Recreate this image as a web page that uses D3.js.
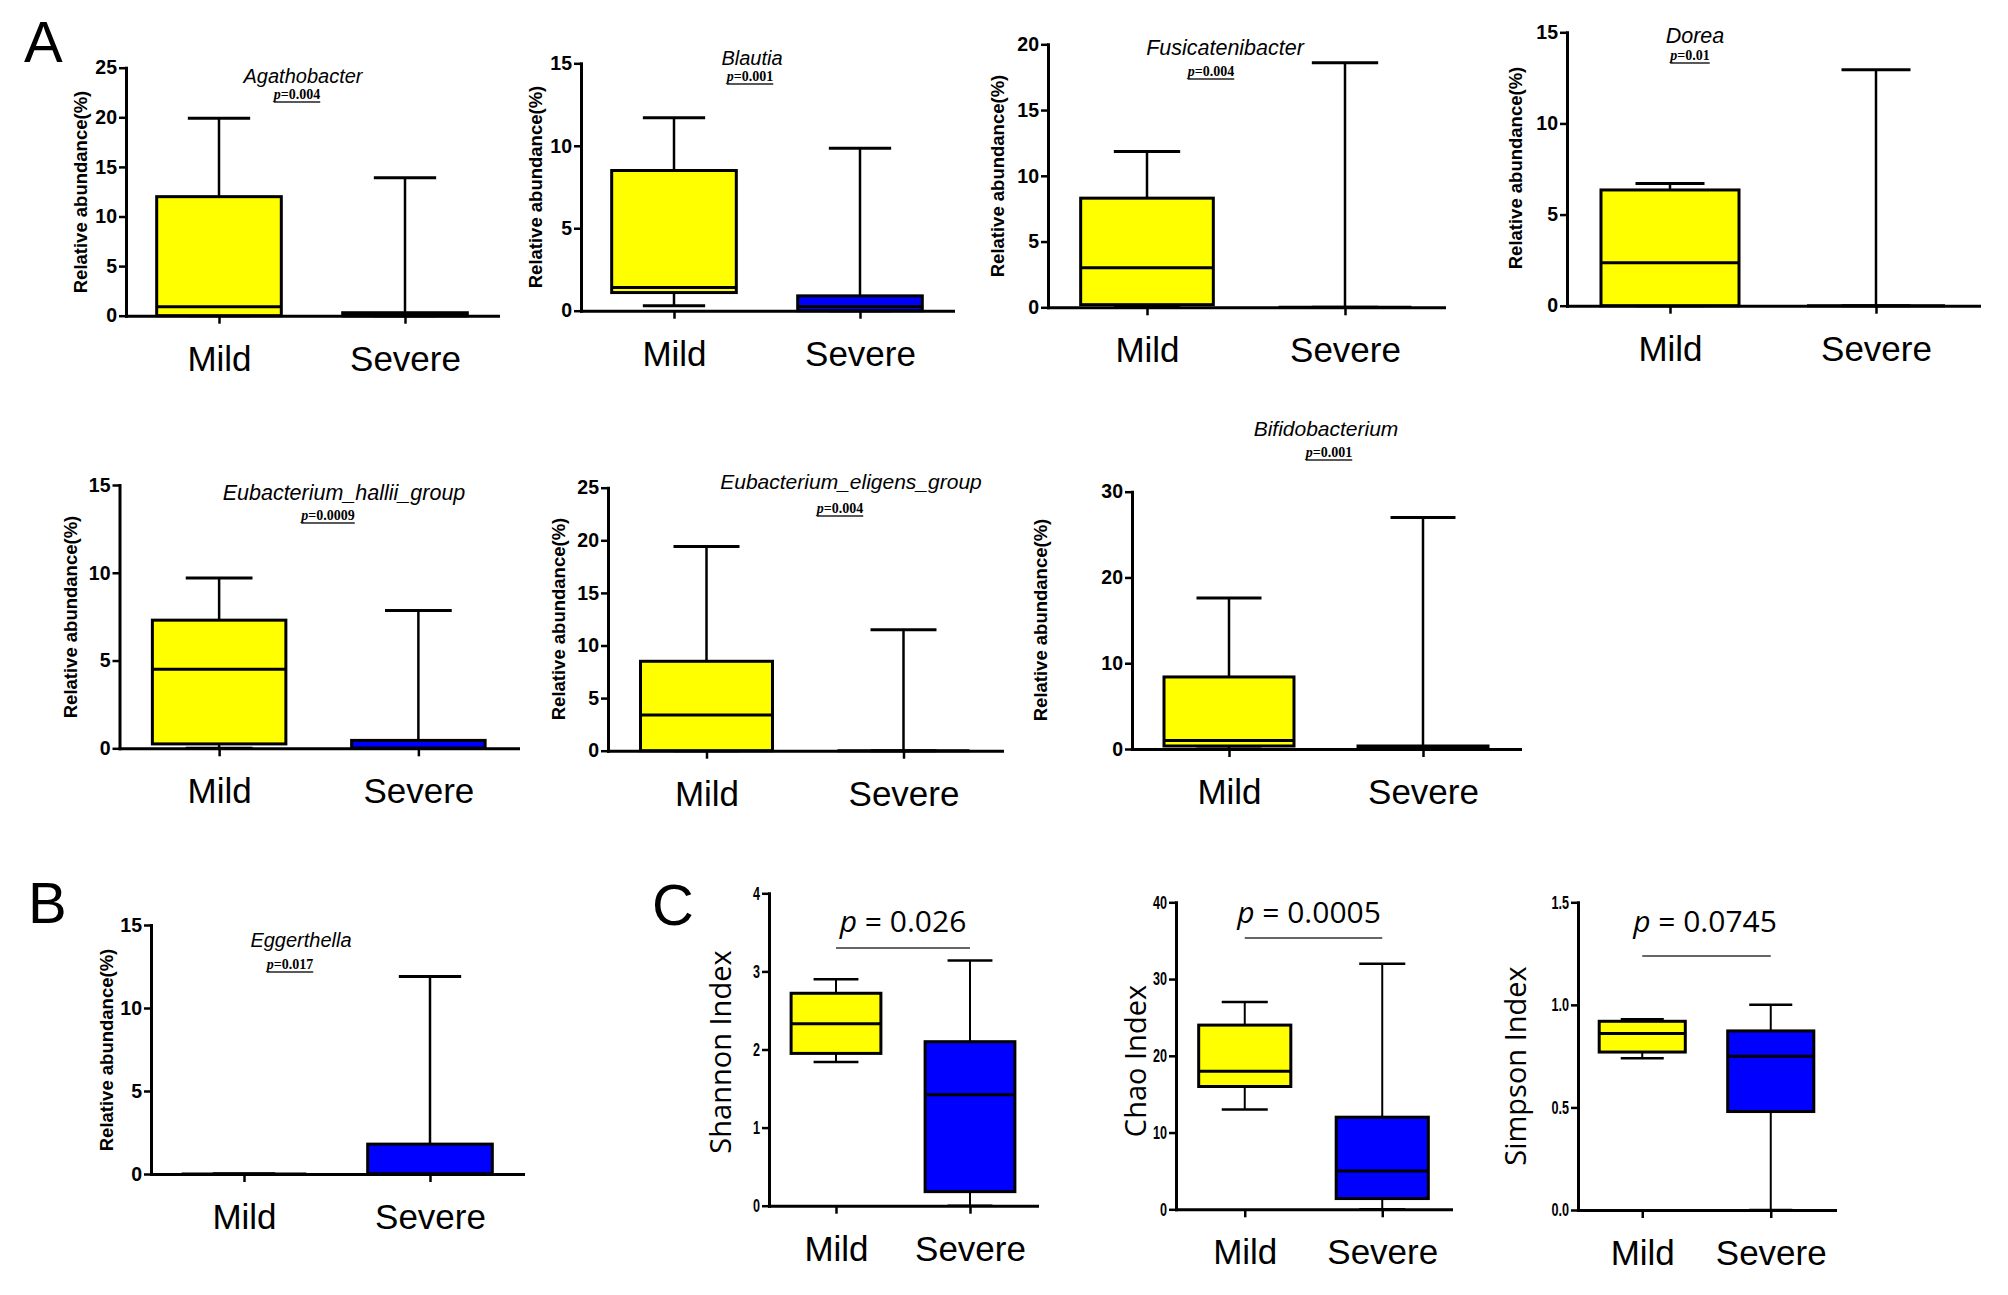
<!DOCTYPE html>
<html>
<head>
<meta charset="utf-8">
<script src="https://cdn.jsdelivr.net/npm/d3@7"></script>
<style>
  body { margin: 0; background: #fff; }
  svg { display: block; }
</style>
</head>
<body>
<svg id="fig" width="2008" height="1295"></svg>
<script>
// ---- data ----
var groups = ['Mild', 'Severe'];
var groupFill = ['#ffff00', '#0000ff'];

// panels A and B: relative abundance of genera
var genera = ['Agathobacter', 'Blautia', 'Fusicatenibacter', 'Dorea',
  'Eubacterium_hallii_group', 'Eubacterium_eligens_group', 'Bifidobacterium', 'Eggerthella'];
var generaP = ['0.004', '0.001', '0.004', '0.01', '0.0009', '0.004', '0.001', '0.017'];
var generaYMax = [25, 15, 20, 15, 15, 25, 30, 15];
var generaYStep = [5, 5, 5, 5, 5, 5, 10, 5];

// [min, q1, median, q3, max]
var mildAbundance = [
  [0, 0, 0.9, 12, 19.9],
  [0.3, 1.1, 1.4, 8.5, 11.7],
  [0, 0.2, 3.0, 8.3, 11.85],
  [0, 0, 2.35, 6.35, 6.7],
  [0, 0.25, 4.5, 7.3, 9.7],
  [0, 0, 3.4, 8.5, 19.4],
  [0, 0.35, 1.0, 8.4, 17.6],
  [0, 0, 0, 0, 0]
];
var severeAbundance = [
  [0, 0, 0, 0.3, 13.9],
  [0, 0, 0.25, 0.9, 9.85],
  [0, 0, 0, 0, 18.6],
  [0, 0, 0, 0, 12.95],
  [0, 0, 0, 0.45, 7.85],
  [0, 0, 0, 0, 11.5],
  [0, 0, 0, 0.35, 27],
  [0, 0, 0, 1.8, 11.9]
];

// panel C: alpha diversity
var indices = ['Shannon Index', 'Chao Index', 'Simpson Index'];
var indexP = ['0.026', '0.0005', '0.0745'];
var indexYMax = [4, 40, 1.5];
var indexYStep = [1, 10, 0.5];
var indexFormat = ['d', 'd', '.1f'];
var mildIndex = [
  [1.84, 1.95, 2.33, 2.72, 2.9],
  [13, 16, 18, 24, 27],
  [0.74, 0.77, 0.86, 0.92, 0.93]
];
var severeIndex = [
  [0, 0.18, 1.42, 2.1, 3.14],
  [0, 1.4, 5, 12, 32],
  [0, 0.48, 0.75, 0.873, 1.0]
];

// ---- layout (pixels) ----
// l/r: x extent, t: y of max tick, b: y of zero
// tx,ty,ts: title centre, baseline, size; px,py: p-value; lx,ly: y label centre
var genusLayout = [
  {l: 126, r: 498, t: 67.7, b: 315.7, tx: 303, ty: 83, ts: 20, px: 297, py: 99, lx: 80, ly: 192},
  {l: 581, r: 953, t: 63.3, b: 310.7, tx: 752, ty: 65, ts: 20, px: 750, py: 81, lx: 535, ly: 187},
  {l: 1048, r: 1444, t: 44.3, b: 307.3, tx: 1225, ty: 55, ts: 21.5, px: 1211, py: 76, lx: 997, ly: 176},
  {l: 1567, r: 1979, t: 32.3, b: 305.7, tx: 1695, ty: 43, ts: 21.5, px: 1690, py: 60, lx: 1515, ly: 168},
  {l: 119.5, r: 518, t: 485, b: 748.3, tx: 344, ty: 500, ts: 21.5, px: 328, py: 520, lx: 70, ly: 617},
  {l: 608, r: 1002, t: 487.7, b: 750.7, tx: 851, ty: 489, ts: 21, px: 840, py: 513, lx: 558, ly: 619},
  {l: 1132, r: 1520, t: 491.7, b: 749, tx: 1326, ty: 436, ts: 21, px: 1329, py: 457, lx: 1040, ly: 620},
  {l: 151, r: 523, t: 925, b: 1174, tx: 301, ty: 947, ts: 20, px: 290, py: 969, lx: 106, ly: 1050}
];
var indexLayout = [
  {l: 769, r: 1037, t: 893.3, b: 1205.7, px: 903, py: 932, by: 948, lx: 719, ly: 1052},
  {l: 1176, r: 1451, t: 902.3, b: 1209.3, px: 1309, py: 923, by: 938, lx: 1134, ly: 1061},
  {l: 1578, r: 1835, t: 902.3, b: 1210, px: 1705, py: 932, by: 956, lx: 1514, ly: 1066}
];

var SANS = "'Liberation Sans', Arial, sans-serif";
var OPEN = "'Open Sans', sans-serif";
var SERIF = "'Liberation Serif', 'Times New Roman', serif";

var svg = d3.select('#fig');

function drawBoxes(g, x, y, rows, whiskerW) {
  var bw = x.step() * 0.67;
  var data = groups.map(function (grp, i) {
    return {grp: grp, s: rows[i], fill: groupFill[i]};
  });
  var box = g.selectAll('g.box').data(data).join('g').attr('class', 'box');

  box.append('line')
    .attr('x1', function (d) { return x(d.grp); })
    .attr('x2', function (d) { return x(d.grp); })
    .attr('y1', function (d) { return y(d.s[0]); })
    .attr('y2', function (d) { return y(d.s[4]); })
    .attr('stroke', '#000').attr('stroke-width', whiskerW);

  [0, 4].forEach(function (k) {
    box.append('line')
      .attr('x1', function (d) { return x(d.grp) - bw / 4; })
      .attr('x2', function (d) { return x(d.grp) + bw / 4; })
      .attr('y1', function (d) { return y(d.s[k]); })
      .attr('y2', function (d) { return y(d.s[k]); })
      .attr('stroke', '#000').attr('stroke-width', whiskerW + 0.5);
  });

  box.append('rect')
    .attr('x', function (d) { return x(d.grp) - bw / 2; })
    .attr('width', bw)
    .attr('y', function (d) { return y(d.s[3]); })
    .attr('height', function (d) { return y(d.s[1]) - y(d.s[3]); })
    .attr('fill', function (d) { return d.fill; })
    .attr('stroke', '#000').attr('stroke-width', 3);

  box.append('line')
    .attr('x1', function (d) { return x(d.grp) - bw / 2; })
    .attr('x2', function (d) { return x(d.grp) + bw / 2; })
    .attr('y1', function (d) { return y(d.s[2]); })
    .attr('y2', function (d) { return y(d.s[2]); })
    .attr('stroke', '#000').attr('stroke-width', 3);
}

// squeeze: horizontal scale for the tick labels (panel C uses condensed digits)
function drawAxes(g, x, y, f, yMax, yStep, fmt, tickSize, squeeze) {
  var yAxis = d3.axisLeft(y)
    .tickValues(d3.range(0, yMax + yStep / 2, yStep))
    .tickFormat(d3.format(fmt))
    .tickSize(7).tickPadding(2).tickSizeOuter(0);
  var ya = g.append('g').attr('transform', 'translate(' + f.l + ',0)').call(yAxis);
  ya.select('.domain').attr('stroke-width', 3).attr('stroke-linecap', 'square');
  ya.selectAll('.tick line').attr('stroke-width', 2.5);
  ya.selectAll('.tick text')
    .attr('font-family', SANS).attr('font-weight', 'bold')
    .attr('font-size', tickSize).attr('fill', '#000')
    .attr('x', -9 / squeeze)
    .attr('transform', 'scale(' + squeeze + ',1)');

  var xAxis = d3.axisBottom(x).tickSize(8).tickPadding(22).tickSizeOuter(0);
  var xa = g.append('g').attr('transform', 'translate(0,' + f.b + ')').call(xAxis);
  xa.select('.domain').attr('stroke-width', 3).attr('stroke-linecap', 'square');
  xa.selectAll('.tick line').attr('stroke-width', 2.5);
  xa.selectAll('.tick text')
    .attr('font-family', SANS).attr('font-size', 35).attr('fill', '#000');
}

// ---- panels A and B ----
genera.forEach(function (name, i) {
  var f = genusLayout[i];
  var g = svg.append('g').attr('class', 'genus');
  var x = d3.scalePoint().domain(groups).range([f.l, f.r]).padding(0.5);
  var y = d3.scaleLinear().domain([0, generaYMax[i]]).range([f.b, f.t]);

  drawBoxes(g, x, y, [mildAbundance[i], severeAbundance[i]], 2.5);
  drawAxes(g, x, y, f, generaYMax[i], generaYStep[i], 'd', 19.5, 1);

  g.append('text')
    .attr('x', f.lx).attr('y', f.ly)
    .attr('transform', 'rotate(-90,' + f.lx + ',' + f.ly + ')')
    .attr('text-anchor', 'middle').attr('dominant-baseline', 'central')
    .attr('font-family', SANS).attr('font-weight', 'bold').attr('font-size', 18.5)
    .text('Relative abundance(%)');

  g.append('text')
    .attr('x', f.tx).attr('y', f.ty)
    .attr('text-anchor', 'middle')
    .attr('font-family', SANS).attr('font-style', 'italic').attr('font-size', f.ts)
    .text(name);

  var pt = g.append('text')
    .attr('x', f.px).attr('y', f.py)
    .attr('text-anchor', 'middle')
    .attr('font-family', SERIF).attr('font-weight', 'bold').attr('font-size', 14);
  pt.append('tspan').attr('font-style', 'italic').text('p');
  pt.append('tspan').text('=' + generaP[i]);
  var w = pt.node().getComputedTextLength();
  g.append('line')
    .attr('x1', f.px - w / 2).attr('x2', f.px + w / 2)
    .attr('y1', f.py + 3).attr('y2', f.py + 3)
    .attr('stroke', '#222').attr('stroke-width', 1.5);
});

// ---- panel C ----
indices.forEach(function (name, i) {
  var f = indexLayout[i];
  var g = svg.append('g').attr('class', 'index');
  var x = d3.scalePoint().domain(groups).range([f.l, f.r]).padding(0.5);
  var y = d3.scaleLinear().domain([0, indexYMax[i]]).range([f.b, f.t]);

  drawBoxes(g, x, y, [mildIndex[i], severeIndex[i]], 2);
  drawAxes(g, x, y, f, indexYMax[i], indexYStep[i], indexFormat[i], 18, 0.7);

  g.append('text')
    .attr('x', f.lx).attr('y', f.ly)
    .attr('transform', 'rotate(-90,' + f.lx + ',' + f.ly + ')')
    .attr('text-anchor', 'middle').attr('dominant-baseline', 'central')
    .attr('font-family', OPEN).attr('font-size', 29)
    .text(name);

  var pt = g.append('text')
    .attr('x', f.px).attr('y', f.py)
    .attr('text-anchor', 'middle')
    .attr('font-family', OPEN).attr('font-size', 30);
  pt.append('tspan').attr('font-style', 'italic').text('p');
  pt.append('tspan').text(' = ' + indexP[i]);

  g.append('line')
    .attr('x1', x('Mild')).attr('x2', x('Severe'))
    .attr('y1', f.by).attr('y2', f.by)
    .attr('stroke', '#333').attr('stroke-width', 1.5);
});

// ---- panel letters ----
var letters = [['A', 24, 62], ['B', 28, 923], ['C', 652, 925]];
svg.selectAll('text.letter').data(letters).join('text')
  .attr('class', 'letter')
  .attr('x', function (d) { return d[1]; })
  .attr('y', function (d) { return d[2]; })
  .attr('font-family', SANS).attr('font-size', 58)
  .text(function (d) { return d[0]; });
</script>
</body>
</html>
